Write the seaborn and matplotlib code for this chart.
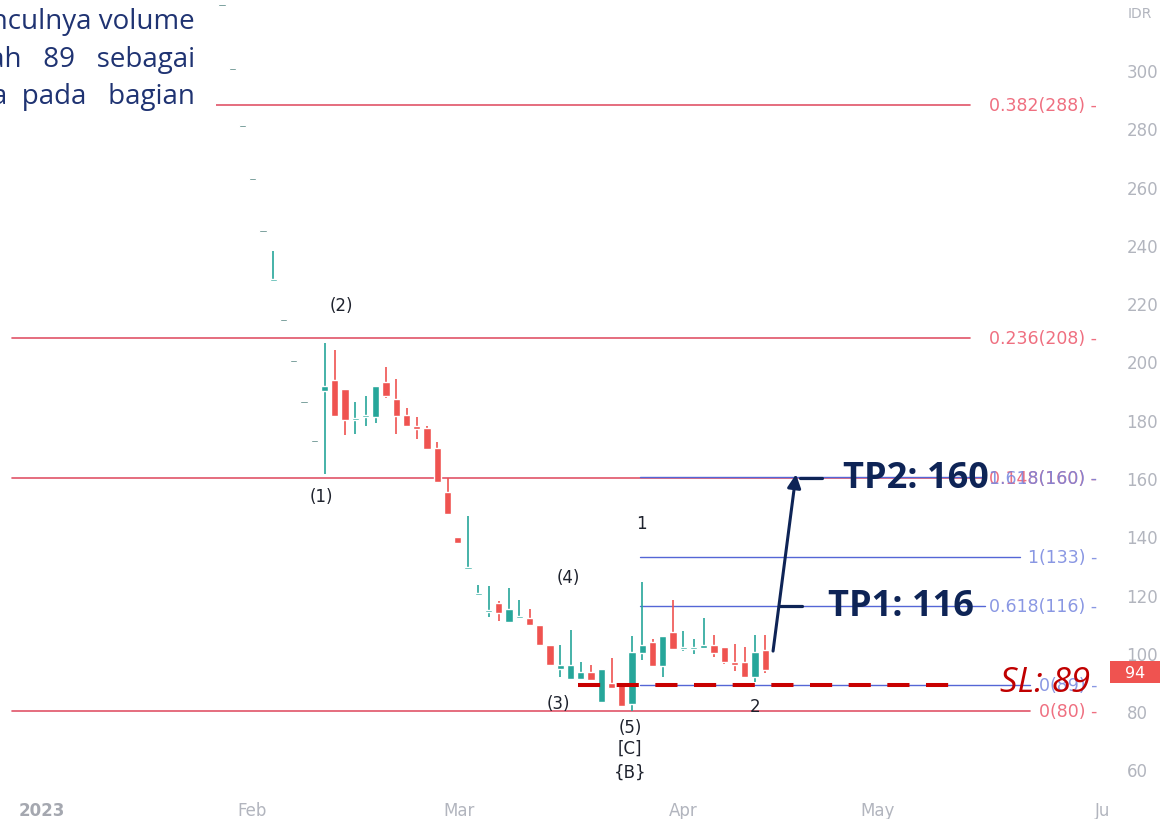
import numpy as np
import pandas as pd
import matplotlib
matplotlib.use("Agg")
import matplotlib.pyplot as plt
import matplotlib.transforms as mtransforms
from matplotlib.patches import Rectangle
import seaborn as sns

# daily OHLC, one value per trading day (bar index 0 = late Jan)
opens = [322, 300, 280.4, 262.3, 244.4, 227.6, 213.9, 199.8, 185.7, 172.3,
         190, 193.6, 190.5, 180, 181, 181, 193, 187, 181.6, 177.8,
         177, 170.3, 155.2, 139.7, 128.8, 119.8, 114, 117, 110.6, 112,
         112, 109.5, 102.7, 94.4, 91, 91, 93.4, 83.1, 89.6, 89,
         82.4, 99.9, 103.7, 95.5, 107.1, 101.4, 101.4, 101.6, 102.7, 102,
         96.8, 96.8, 91.7, 101]
highs = [322, 300, 280.4, 262.3, 244.4, 238, 213.9, 199.8, 185.7, 172.3,
         206.3, 204, 190.5, 186, 188, 191.6, 198, 194, 184, 181,
         178, 172.4, 160, 139.7, 147, 123.3, 123, 117.8, 122.2, 118.1,
         115, 109.5, 102.7, 102.7, 108, 96.8, 95.8, 94.4, 98.2, 89,
         105.8, 124.3, 104.7, 105.8, 118.1, 107.5, 104.7, 112, 106, 102,
         103, 102, 106, 106]
lows = [322, 300, 280.4, 262.3, 244.4, 227.6, 213.9, 199.8, 185.7, 172.3,
        161.4, 181, 174.7, 175, 178, 179, 187.5, 175, 177.8, 173.4,
        170, 158.6, 147.6, 137.7, 128.8, 119.8, 112.3, 111, 110.6, 112,
        109.6, 102.7, 95.8, 91.7, 91, 91, 90.6, 83.1, 87.9, 81.8,
        80, 97.5, 95.5, 91.7, 101.3, 100.6, 99.6, 101.6, 98.6, 96,
        93.8, 91.7, 90, 93]
closes = [322, 300, 280.4, 262.3, 244.4, 228, 213.9, 199.8, 185.7, 172.3,
          191.6, 181.3, 180, 180.5, 181.5, 191.6, 188, 181.3, 177.8, 176.8,
          170, 158.6, 147.6, 137.7, 129.3, 120.2, 114.5, 113.7, 115, 112.6,
          109.6, 102.7, 95.8, 95.8, 95.8, 93.4, 90.6, 94.4, 87.9, 81.8,
          100.3, 102.7, 95.5, 105.8, 101.3, 101.8, 101.8, 102.7, 99.9, 96.8,
          95.8, 91.7, 100.3, 94]

month_labels = ["2023", "Feb", "Mar", "Apr", "May", "Ju"]
month_pos = [-17.6, 2.9, 23.1, 45.0, 64.0, 85.9]
price_ticks = list(range(60, 301, 20))

red_levels = [288, 208, 160, 80]
red_labels = ["0.382(288) -", "0.236(208) -", "0.148(160) -", "0(80) -"]
blue_levels = [160, 133, 116, 89]
blue_labels = ["1.618(160) -", "1(133) -", "0.618(116) -", "0(89) -"]

wave_labels = ["(2)", "(1)", "(4)", "(3)", "(5)", "[C]", "{B}", "1", "2"]
wave_bar = [11.6, 9.7, 33.8, 32.8, 39.8, 39.8, 39.8, 40.9, 52.0]
wave_price = [219.4, 153.8, 126, 82.8, 74.5, 67.3, 59.1, 144.5, 81.7]

note_lines = ["munculnya volume", "lah   89   sebagai", "ta  pada   bagian"]

tp1, tp2, sl = 116, 160, 89
last_price = 94

GREEN = "#26a69a"
RED = "#ef5350"
FIB_RED = "#e05468"
FIB_RED_TXT = "#ef6f80"
FIB_BLUE = "#5466d6"
FIB_BLUE_TXT = "#7585de"
NAVY = "#0e2456"
GREY = "#b2b5be"

sns.set_style("white")
plt.rcParams["font.family"] = ["DejaVu Sans"]

fig = plt.figure(figsize=(11.63, 8.2), dpi=100)
ax = fig.add_axes([0, 25 / 820, 1107 / 1163, 795 / 820])
ax.set_xlim(-21.66, 86.34)
ax.set_ylim(51.55, 324.4)
sns.despine(ax=ax, left=True, bottom=True, right=True, top=True)

# fibonacci levels
for lvl, lab, x1 in zip(red_levels, red_labels, [73.0, 73.0, 74.4, 78.8]):
    ax.plot([-20.5, x1], [lvl, lvl], color=FIB_RED, lw=1.2, zorder=1)
    ax.text(85.4, lvl, lab, ha="right", va="center", color=FIB_RED_TXT, fontsize=12.5, zorder=2)
for lvl, lab, x1 in zip(blue_levels, blue_labels, [74.4, 77.9, 74.4, 78.8]):
    ax.plot([40.8, x1], [lvl + 0.5 if lvl == 160 else lvl] * 2, color=FIB_BLUE, lw=1.0, zorder=1)
    ax.text(85.4, lvl, lab, ha="right", va="center", color=FIB_BLUE_TXT, fontsize=12.5, zorder=2, alpha=0.85)

# candles
df = pd.DataFrame({"open": opens, "high": highs, "low": lows, "close": closes})
df["x"] = np.arange(len(df))
df["color"] = np.where(df["close"] >= df["open"], GREEN, RED)
flat = (df["high"] - df["low"]) < 0.01
df.loc[flat, "color"] = "#2f6b66"
body_lo = df[["open", "close"]].min(axis=1)
body_h = (df["close"] - df["open"]).abs().clip(lower=0.65)
body_h[flat] = 0.8
ax.vlines(df["x"], df["low"], df["high"], colors=df["color"], lw=1.2, zorder=3)
ax.bar(df["x"], body_h, bottom=body_lo, width=0.72, color=df["color"], zorder=4)

# wave counts
for lab, bx, py in zip(wave_labels, wave_bar, wave_price):
    ax.text(bx, py, lab, ha="center", va="center", fontsize=12, color="#1e222d", zorder=5)

# stop loss line
ax.plot([34.7, 72.0], [sl, sl], color="#c80000", lw=2.9, dashes=[5.5, 4.1], zorder=6)
ax.text(75.9, sl + 1, "SL: 89", fontsize=25, style="italic", color="#c00000",
        va="center", ha="left", family=["Open Sans", "DejaVu Sans"], zorder=8)

# targets
last_x = len(df) - 1
ax.annotate("", xy=(last_x + 3.0, tp2 + 1.3), xytext=(last_x + 0.76, 100.6),
            arrowprops=dict(arrowstyle="-|>", color=NAVY, lw=2.2, mutation_scale=20,
                            shrinkA=0, shrinkB=0), zorder=7)
ax.plot([last_x + 3.4, last_x + 5.5], [tp2, tp2], color=NAVY, lw=2.3, zorder=7)
ax.plot([last_x + 1.4, last_x + 3.6], [tp1, tp1], color=NAVY, lw=2.3, zorder=7)
ax.text(60.6, tp2, "TP2: 160", fontsize=26, fontweight="bold", color=NAVY,
        va="center", ha="left", family=["Open Sans", "DejaVu Sans"], zorder=8)
ax.text(59.1, tp1, "TP1: 116", fontsize=26, fontweight="bold", color=NAVY,
        va="center", ha="left", family=["Open Sans", "DejaVu Sans"], zorder=8)

# axes
ax.set_xticks(month_pos)
ax.set_xticklabels(month_labels)
ax.set_yticks(price_ticks)
ax.yaxis.tick_right()
ax.tick_params(axis="y", length=0, pad=14, labelcolor=GREY, labelsize=12)
ax.tick_params(axis="x", length=0, pad=5, labelcolor=GREY, labelsize=12)
ax.get_xticklabels()[0].set_fontweight("bold")
ax.get_xticklabels()[0].set_color("#a5a8b0")

# last price tag
blend = mtransforms.blended_transform_factory(ax.transAxes, ax.transData)
ax.add_patch(Rectangle((1.0027, last_price - 4.4), 0.0452, 7.6, transform=blend,
                       facecolor=RED, edgecolor="none", clip_on=False, zorder=9))
ax.text(1.0253, last_price - 0.6, str(last_price), transform=blend, ha="center", va="center",
        color="white", fontsize=11.5, clip_on=False, zorder=10)

fig.text(1140 / 1163, 1 - 14 / 820, "IDR", ha="center", va="center", color=GREY, fontsize=10)

# pasted note in the corner
ax.add_patch(Rectangle((0, 1 - 115 / 820), 216 / 1163, 115 / 820, transform=fig.transFigure,
                       facecolor="white", edgecolor="none", clip_on=False, zorder=20))
for i, line in enumerate(note_lines):
    fig.text(195 / 1163, 1 - (22 + 37.5 * i) / 820, line, ha="right", va="center",
             fontsize=20, color="#1f3372", family=["Open Sans", "DejaVu Sans"], zorder=30)

fig.savefig("out.png", dpi=100)
